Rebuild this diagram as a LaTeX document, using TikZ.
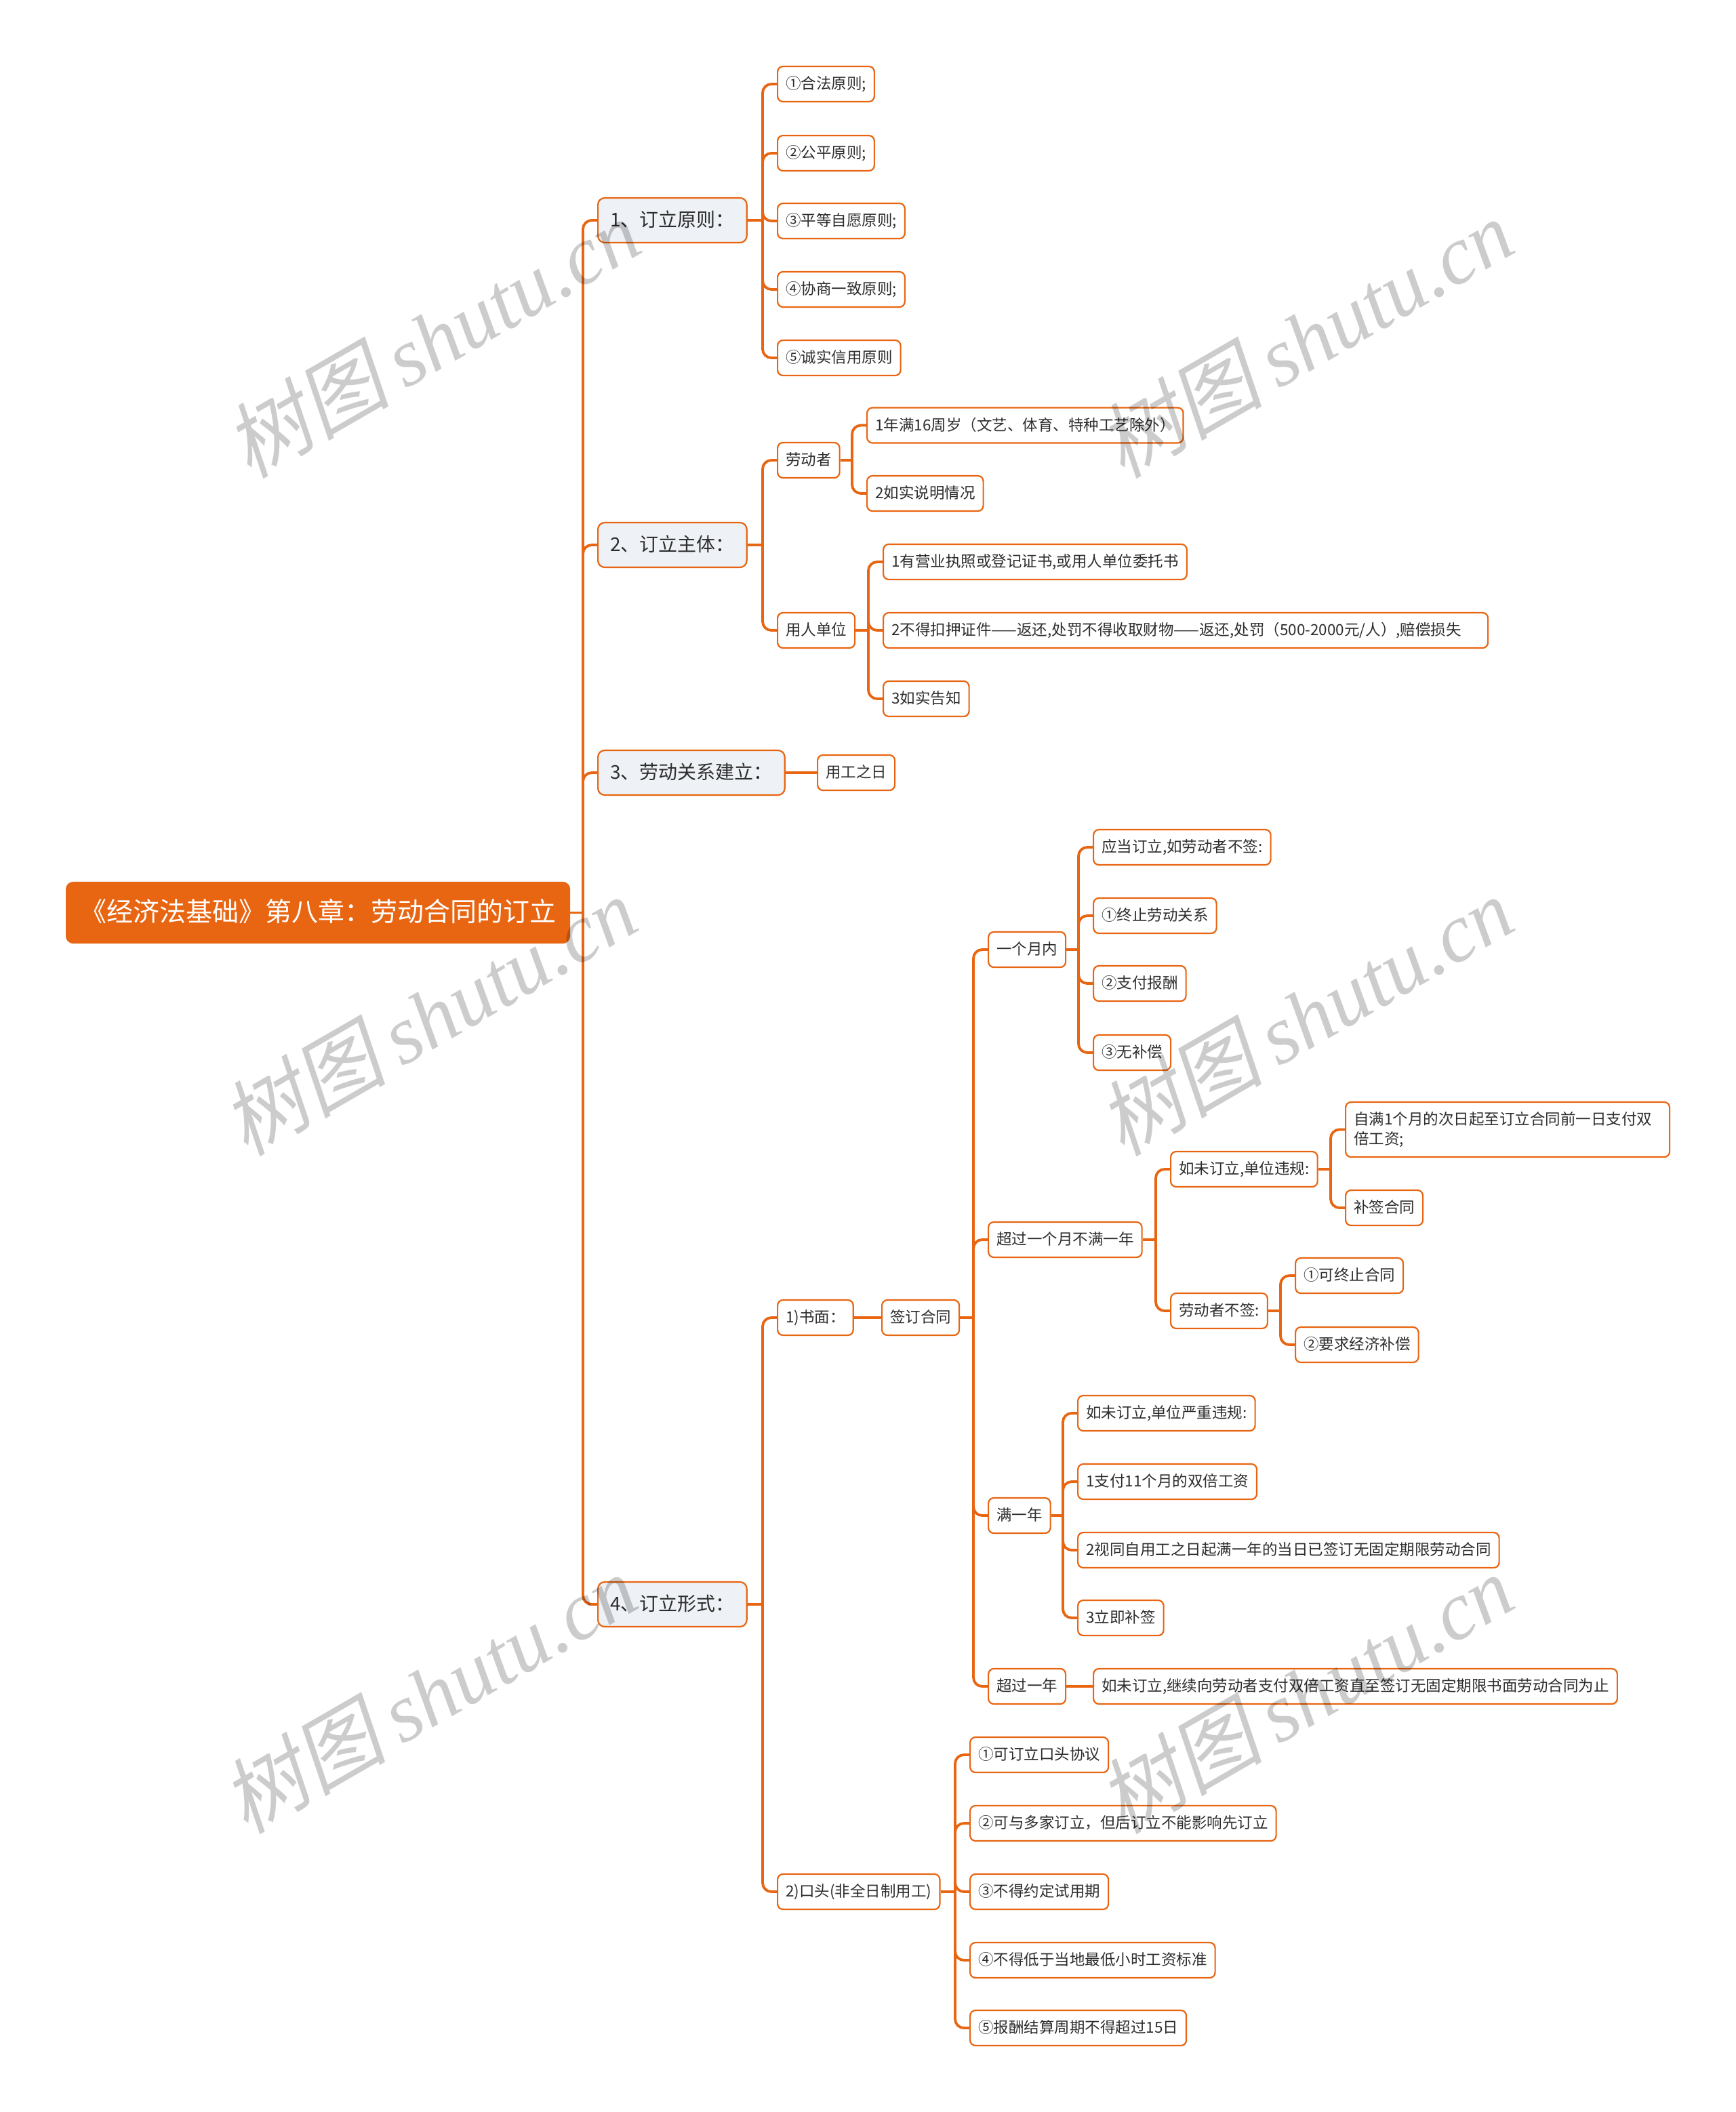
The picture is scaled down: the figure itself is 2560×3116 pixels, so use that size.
\documentclass[tikz,border=0pt]{standalone}
\usepackage{fontspec}
\setmainfont{Noto Sans CJK SC}
\newfontfamily\wmserif{Liberation Serif}
\newfontfamily\wmcjk[FakeSlant=0.2]{Noto Sans CJK SC}
\usetikzlibrary{backgrounds}
\definecolor{oc}{RGB}{232,101,17}
\definecolor{lone}{RGB}{238,241,245}
\definecolor{tc}{RGB}{45,45,45}
\newcommand\mmlink[2]{%
  \path (#2.west) ++(-21,0) coordinate (k);
  \draw[conn] (#1.east) -- (#1.east -| k) coordinate (j);
  \draw[conn,rounded corners=13pt] (j) |- (#2.west);}
\newcommand\mmstraight[2]{\draw[conn] (#1.east) -- (#2.west);}
\begin{document}
\begin{tikzpicture}[x=1pt,y=-1pt,
  base/.style={draw=oc, line width=2.2pt, fill=white, rounded corners=8pt, text=tc,
    inner xsep=12pt, inner ysep=0pt, anchor=west, font=\fontsize{22.5}{29.5}\selectfont},
  leaf/.style={base, minimum height=52pt, text height=18.9pt, text depth=3.6pt},
  lvl/.style={base, fill=lone, rounded corners=10pt, font=\fontsize{28}{34}\selectfont,
    inner xsep=18pt, minimum height=66pt, text height=23.5pt, text depth=4.5pt},
  rootbox/.style={base, fill=oc, text=white, rounded corners=10pt,
    font=\fontsize{39}{46}\selectfont, inner xsep=20pt, minimum height=89pt,
    text height=32.8pt, text depth=6.2pt},
  conn/.style={draw=oc, line width=3.8pt},
  wm/.style={anchor=base west, rotate=30, inner sep=0pt, text=black, text opacity=0.2,
    font=\fontsize{122}{122}\selectfont}]
\useasboundingbox (0,0) rectangle (2560,3116);

% root and level 1
\node[rootbox] (root) at (97,1346.5) {《经济法基础》第八章：劳动合同的订立};
\node[lvl] (n1) at (881,325) {1、订立原则：};
\node[lvl] (n2) at (881,804) {2、订立主体：};
\node[lvl] (n3) at (881,1140) {3、劳动关系建立：};
\node[lvl] (n4) at (881,2367) {4、订立形式：};

% section 1
\node[leaf] (a1) at (1146,124) {①合法原则;};
\node[leaf] (a2) at (1146,226) {②公平原则;};
\node[leaf] (a3) at (1146,326) {③平等自愿原则;};
\node[leaf] (a4) at (1146,427) {④协商一致原则;};
\node[leaf] (a5) at (1146,528) {⑤诚实信用原则};

% section 2
\node[leaf] (b1) at (1146,679) {劳动者};
\node[leaf] (b2) at (1146,930) {用人单位};
\node[leaf] (b11) at (1278,627.5) {1年满16周岁（文艺、体育、特种工艺除外）};
\node[leaf] (b12) at (1278,728) {2如实说明情况};
\node[leaf] (b21) at (1302,829) {1有营业执照或登记证书,或用人单位委托书};
\node[leaf, text width=868pt, align=left] (b22) at (1302,930) {2不得扣押证件——返还,处罚不得收取财物——返还,处罚（500-2000元/人）,赔偿损失};
\node[leaf] (b23) at (1302,1031) {3如实告知};

% section 3
\node[leaf] (c0) at (1205,1140) {用工之日};

% section 4
\node[leaf] (c1) at (1146,1944) {1)书面：};
\node[leaf] (c2) at (1146,2791) {2)口头(非全日制用工)};
\node[leaf] (s) at (1300,1944) {签订合同};
\node[leaf] (d1) at (1457,1401) {一个月内};
\node[leaf] (d2) at (1457,1829) {超过一个月不满一年};
\node[leaf] (d3) at (1457,2236) {满一年};
\node[leaf] (d4) at (1457,2488) {超过一年};
\node[leaf] (e1) at (1612,1250) {应当订立,如劳动者不签:};
\node[leaf] (e2) at (1612,1351) {①终止劳动关系};
\node[leaf] (e3) at (1612,1451) {②支付报酬};
\node[leaf] (e4) at (1612,1553) {③无补偿};
\node[leaf] (f1) at (1726,1725) {如未订立,单位违规:};
\node[leaf] (f2) at (1726,1934) {劳动者不签:};
\node[base, minimum height=81pt, text width=454pt, align=left] (g1) at (1984,1666.5)
  {自满1个月的次日起至订立合同前一日支付双\\倍工资;};
\node[leaf] (g2) at (1984,1782) {补签合同};
\node[leaf] (h1) at (1910,1882) {①可终止合同};
\node[leaf] (h2) at (1910,1984) {②要求经济补偿};
\node[leaf] (i1) at (1589,2085) {如未订立,单位严重违规:};
\node[leaf] (i2) at (1589,2186) {1支付11个月的双倍工资};
\node[leaf] (i3) at (1589,2287) {2视同自用工之日起满一年的当日已签订无固定期限劳动合同};
\node[leaf] (i4) at (1589,2387) {3立即补签};
\node[leaf] (j1) at (1612,2488) {如未订立,继续向劳动者支付双倍工资直至签订无固定期限书面劳动合同为止};
\node[leaf] (k1) at (1430,2589) {①可订立口头协议};
\node[leaf] (k2) at (1430,2690) {②可与多家订立，但后订立不能影响先订立};
\node[leaf] (k3) at (1430,2791) {③不得约定试用期};
\node[leaf] (k4) at (1430,2892) {④不得低于当地最低小时工资标准};
\node[leaf] (k5) at (1430,2992) {⑤报酬结算周期不得超过15日};

\begin{scope}[on background layer]
\fill[white] (0,0) rectangle (2560,3116);
\foreach \c in {n1,n2,n3,n4} {\mmlink{root}{\c}}
\foreach \c in {a1,a2,a3,a4,a5} {\mmlink{n1}{\c}}
\foreach \c in {b1,b2} {\mmlink{n2}{\c}}
\foreach \c in {b11,b12} {\mmlink{b1}{\c}}
\foreach \c in {b21,b22,b23} {\mmlink{b2}{\c}}
\mmstraight{n3}{c0}
\foreach \c in {c1,c2} {\mmlink{n4}{\c}}
\mmstraight{c1}{s}
\foreach \c in {d1,d2,d3,d4} {\mmlink{s}{\c}}
\foreach \c in {e1,e2,e3,e4} {\mmlink{d1}{\c}}
\foreach \c in {f1,f2} {\mmlink{d2}{\c}}
\foreach \c in {g1,g2} {\mmlink{f1}{\c}}
\foreach \c in {h1,h2} {\mmlink{f2}{\c}}
\foreach \c in {i1,i2,i3,i4} {\mmlink{d3}{\c}}
\mmstraight{d4}{j1}
\foreach \c in {k1,k2,k3,k4,k5} {\mmlink{c2}{\c}}
\end{scope}

% watermarks
\foreach \x/\y [count=\i] in {368/708,1656/708,363/1708,1656/1708,363/2708,1656/2708}
  \node[wm] (wm\i) at (\x,\y) {{\wmcjk 树图}\hspace{22pt}{\wmserif\itshape shutu.cn}};
\end{tikzpicture}
\end{document}
